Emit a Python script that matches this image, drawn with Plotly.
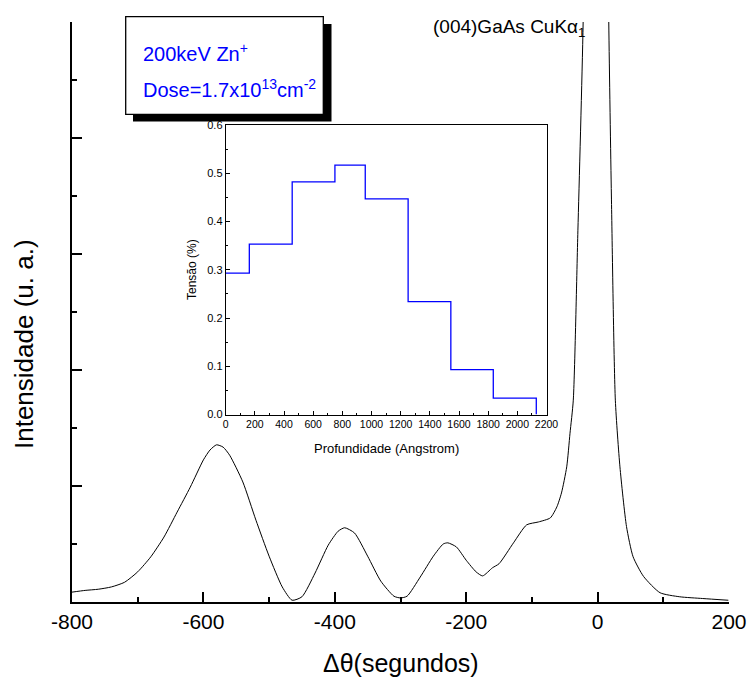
import plotly.graph_objects as go

# ---- main rocking curve ----
theta = [-800, -780, -760, -740, -720, -700, -680, -660, -640, -620, -600, -590, -580,
         -570, -560, -540, -520, -500, -480, -465, -450, -430, -410, -395, -385, -370,
         -350, -330, -310, -300, -290, -270, -250, -235, -228, -215, -200, -185, -175,
         -160, -150, -128, -108, -90, -72, -62, -55, -47, -42, -37, -30, -22, -12, -2,
         8, 17, 21, 27, 34, 44, 54, 70, 95, 125, 160, 199]
intens = [0.17, 0.20, 0.22, 0.26, 0.34, 0.52, 0.78, 1.12, 1.55, 1.98, 2.45, 2.62, 2.71,
          2.67, 2.53, 2.07, 1.41, 0.79, 0.26, 0.03, 0.09, 0.50, 0.98, 1.22, 1.28, 1.19,
          0.79, 0.36, 0.10, 0.07, 0.10, 0.43, 0.79, 1.00, 1.02, 0.95, 0.72, 0.52, 0.45,
          0.59, 0.66, 1.02, 1.33, 1.38, 1.45, 1.64, 1.88, 2.33, 2.91, 3.48, 6.4, 10.0, 20.0, 35.0,
          20.0, 10.0, 7.0, 3.48, 2.33, 1.30, 0.78, 0.44, 0.16, 0.09, 0.06, 0.03]

# ---- inset strain profile ----
depth = [0, 162, 456, 749, 957, 1251, 1544, 1835, 2130]
strain = [0.293, 0.353, 0.482, 0.517, 0.447, 0.234, 0.093, 0.034, 0.0]

x_ticks = [-800, -600, -400, -200, 0, 200]
x_tick_text = ["-800", "-600", "-400", "-200", "0", "200"]
inset_x_ticks = list(range(0, 2201, 200))
inset_y_ticks = [0.0, 0.1, 0.2, 0.3, 0.4, 0.5, 0.6]

W, H = 748, 683
L, R, T, B = 72, 729, 22, 602

def px(x):
    return (x - L) / (R - L)

def py(y):
    return (B - y) / (B - T)

FONT = "Liberation Sans, Arial, sans-serif"

fig = go.Figure()
fig.add_trace(go.Scatter(x=theta, y=intens, mode="lines",
                         line=dict(color="black", width=1, shape="spline", smoothing=0.6),
                         xaxis="x", yaxis="y", showlegend=False, hoverinfo="skip"))
fig.add_trace(go.Scatter(x=depth, y=strain, mode="lines",
                         line=dict(color="#0000FF", width=1.3, shape="hv"),
                         xaxis="x2", yaxis="y2", showlegend=False, hoverinfo="skip"))

fig.update_layout(
    width=W, height=H,
    margin=dict(l=L, r=W - R, t=T, b=H - B, pad=0, autoexpand=False),
    paper_bgcolor="white", plot_bgcolor="white",
    font=dict(family=FONT, color="black"),
    xaxis=dict(domain=[0, 1], range=[-800, 200], tickvals=x_ticks, ticktext=x_tick_text,
               automargin=False,
               ticks="inside", ticklen=10, tickwidth=2, tickcolor="black",
               showline=True, linewidth=2, linecolor="black", mirror=False,
               showgrid=False, zeroline=False,
               tickfont=dict(size=21, family=FONT),
               minor=dict(dtick=100, ticks="inside", ticklen=5, tickwidth=2, tickcolor="black", showgrid=False)),
    yaxis=dict(domain=[0, 1], range=[0, 10], dtick=2, tick0=0, automargin=False,
               ticks="inside", ticklen=10, tickwidth=2, tickcolor="black",
               showline=True, linewidth=2, linecolor="black", mirror=False,
               showgrid=False, zeroline=False, showticklabels=False,
               minor=dict(dtick=1, ticks="inside", ticklen=5, tickwidth=2, tickcolor="black", showgrid=False)),
    xaxis2=dict(domain=[px(225.7), px(546.5)], anchor="y2", range=[0, 2200], automargin=False,
                tickvals=inset_x_ticks, ticks="inside", ticklen=4, tickwidth=1, tickcolor="black",
                showline=True, linewidth=1, linecolor="black", mirror=True,
                showgrid=False, zeroline=False, tickfont=dict(size=10.5, family=FONT),
                minor=dict(dtick=100, ticks="inside", ticklen=2, tickwidth=1, tickcolor="black", showgrid=False)),
    yaxis2=dict(domain=[py(414.5), py(125)], anchor="x2", range=[0, 0.6], automargin=False,
                tickvals=inset_y_ticks, tickformat=".1f", ticks="inside", ticklen=4, tickwidth=1,
                tickcolor="black", showline=True, linewidth=1, linecolor="black", mirror=True,
                showgrid=False, zeroline=False, tickfont=dict(size=11, family=FONT),
                minor=dict(dtick=0.05, ticks="inside", ticklen=2, tickwidth=1, tickcolor="black", showgrid=False)),
)

shapes = [
    # shadow of text box
    dict(type="rect", xref="paper", yref="paper",
         x0=px(133), x1=px(331.5), y0=py(121.5), y1=py(24),
         fillcolor="black", line=dict(width=0), layer="above"),
    # text box
    dict(type="rect", xref="paper", yref="paper",
         x0=px(125.7), x1=px(323.3), y0=py(114.3), y1=py(16.7),
         fillcolor="white", line=dict(color="black", width=1.3), layer="above"),
]
fig.update_layout(shapes=shapes)

ann = [
    dict(text="200keV Zn<sup>+</sup>", x=px(141), y=py(52), xanchor="left", yanchor="middle",
         font=dict(size=20, color="#0000FF", family=FONT)),
    dict(text="Dose=1.7x10<sup>13</sup>cm<sup>-2</sup>", x=px(141), y=py(89), xanchor="left", yanchor="middle",
         font=dict(size=20, color="#0000FF", family=FONT)),
    dict(text="(004)GaAs CuKα<sub>1</sub>", x=px(431), y=py(28), xanchor="left", yanchor="middle",
         font=dict(size=19, color="black", family=FONT)),
    dict(text="Δθ(segundos)", x=px(401), y=py(663), xanchor="center", yanchor="middle",
         font=dict(size=25, color="black", family=FONT)),
    dict(text="Intensidade (u. a.)", x=px(24), y=py(344), xanchor="center", yanchor="middle",
         textangle=-90, font=dict(size=26, color="black", family=FONT)),
    dict(text="Profundidade (Angstrom)", x=px(386), y=py(448), xanchor="center", yanchor="middle",
         font=dict(size=13, color="black", family=FONT)),
    dict(text="Tensão (%)", x=px(192), y=py(270), xanchor="center", yanchor="middle",
         textangle=-90, font=dict(size=12, color="black", family=FONT)),
]
for a in ann:
    a.update(xref="paper", yref="paper", showarrow=False)
fig.update_layout(annotations=ann)

page_fix = (
    "document.documentElement.style.margin='0px';"
    "document.documentElement.style.padding='0px';"
    "document.documentElement.style.overflow='hidden';"
    "document.body.style.margin='0px';"
    "document.body.style.padding='0px';"
    "document.body.style.overflow='hidden';"
)
fig.write_html("out.html", config={"displayModeBar": False}, post_script=page_fix)
